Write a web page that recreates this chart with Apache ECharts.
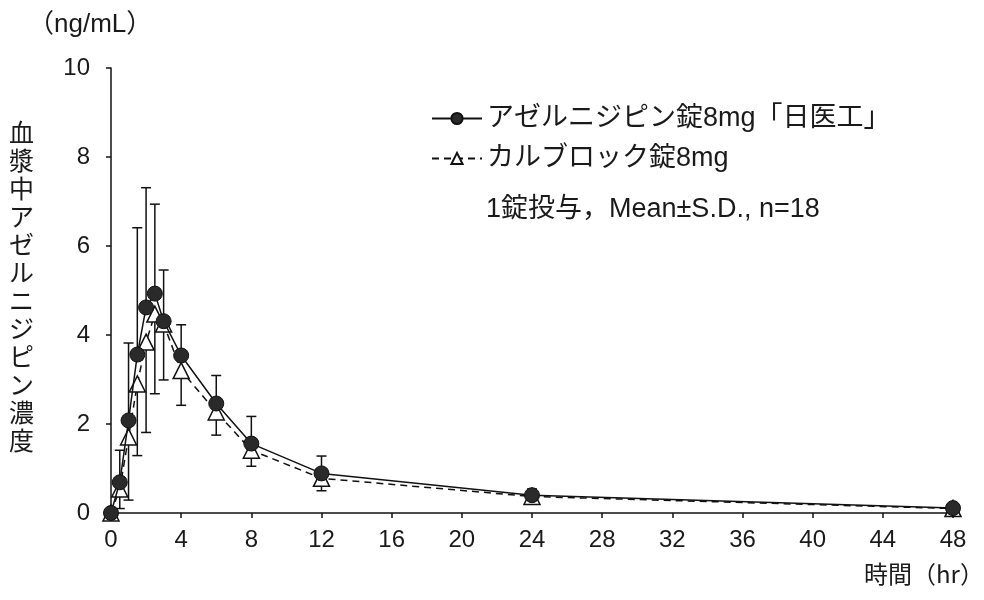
<!DOCTYPE html>
<html>
<head>
<meta charset="utf-8">
<script src="https://cdn.jsdelivr.net/npm/echarts@6/dist/echarts.min.js"></script>
<style>html,body{margin:0;padding:0;background:#fff;}#c{width:984px;height:600px;}</style>
</head>
<body>
<div id="c"></div>
<script>
// time points (hr)
var times = [0, 0.5, 1, 1.5, 2, 2.5, 3, 4, 6, 8, 12, 24, 48];
// アゼルニジピン錠8mg「日医工」 mean and SD (upper bars)
var meanA = [0, 0.69, 2.08, 3.56, 4.62, 4.93, 4.31, 3.54, 2.46, 1.56, 0.89, 0.40, 0.11];
var sdA   = [0, 0.72, 1.74, 2.85, 2.69, 2.01, 1.15, 0.69, 0.63, 0.61, 0.39, 0.14, 0.04];
// カルブロック錠8mg mean and SD (lower bars)
var meanB = [0, 0.54, 1.71, 2.90, 3.84, 4.47, 4.25, 3.20, 2.27, 1.41, 0.78, 0.37, 0.10];
var sdB   = [0, 0.44, 1.42, 1.61, 2.03, 1.79, 1.26, 0.78, 0.52, 0.36, 0.28, 0.09, 0.03];
var nameA = 'アゼルニジピン錠8mg「日医工」';
var nameB = 'カルブロック錠8mg';
var xTicks = [0, 4, 8, 12, 16, 20, 24, 28, 32, 36, 40, 44, 48];
var yTicks = [0, 2, 4, 6, 8, 10];

var chart = echarts.init(document.getElementById('c'));
var jp = '"Liberation Sans", "Noto Sans CJK JP", sans-serif';

function errData(mean, sd, dir) {
  return times.map(function (t, i) {
    return [t, mean[i], mean[i] + dir * sd[i]];
  }).filter(function (d) { return d[1] !== d[2]; });
}
function errRender(params, api) {
  var p0 = api.coord([api.value(0), api.value(1)]);
  var p1 = api.coord([api.value(0), api.value(2)]);
  var hw = 5;
  var st = { stroke: '#111', lineWidth: 1.5, fill: null };
  return {
    type: 'group',
    children: [
      { type: 'line', shape: { x1: p0[0], y1: p0[1], x2: p1[0], y2: p1[1] }, style: st },
      { type: 'line', shape: { x1: p1[0] - hw, y1: p1[1], x2: p1[0] + hw, y2: p1[1] }, style: st }
    ]
  };
}

var option = {
  animation: false,
  backgroundColor: '#fff',
  textStyle: { fontFamily: jp },
  grid: { left: 111, right: 31, top: 68, bottom: 87, containLabel: false },
  xAxis: {
    type: 'value', min: 0, max: 48, interval: 4,
    axisLine: { lineStyle: { color: '#111', width: 1.5 } },
    axisTick: { show: true, length: 5, lineStyle: { color: '#111', width: 1.5 } },
    axisLabel: { color: '#1a1a1a', fontSize: 24, margin: 15, fontFamily: jp,
      formatter: function (v) { return xTicks.indexOf(v) >= 0 ? String(v) : ''; } },
    splitLine: { show: false }
  },
  yAxis: {
    type: 'value', min: 0, max: 10, interval: 2,
    axisLine: { show: true, lineStyle: { color: '#111', width: 1.5 } },
    axisTick: { show: true, length: 5, lineStyle: { color: '#111', width: 1.5 } },
    axisLabel: { color: '#1a1a1a', fontSize: 24, margin: 21, fontFamily: jp,
      formatter: function (v) { return yTicks.indexOf(v) >= 0 ? String(v) : ''; } },
    splitLine: { show: false }
  },
  legend: {
    orient: 'vertical', left: 426, top: 100, itemGap: 13,
    itemWidth: 50, itemHeight: 14,
    textStyle: { fontSize: 27, color: '#1a1a1a', fontFamily: jp },
    data: [nameA, nameB]
  },
  graphic: [
    { type: 'text', left: 28, top: 12, style: { text: '（ng/mL）', font: '26px ' + jp, fill: '#1a1a1a' } },
    { type: 'text', left: 9, top: 118, style: { text: '血\n漿\n中\nア\nゼ\nル\nニ\nジ\nピ\nン\n濃\n度', font: '25px "Noto Sans CJK JP", sans-serif', fill: '#1a1a1a', lineHeight: 28, align: 'left' } },
    { type: 'text', left: 864, top: 562, style: { text: '時間（hr）', font: '24px "Noto Sans CJK JP", sans-serif', fill: '#1a1a1a' } },
    { type: 'text', left: 486, top: 196, style: { text: '1錠投与，Mean±S.D., n=18', font: '27px ' + jp, fill: '#1a1a1a' } }
  ],
  series: [
    { type: 'custom', name: 'errA', renderItem: errRender, data: errData(meanA, sdA, 1), z: 1, silent: true, encode: { x: 0, y: [1, 2] } },
    { type: 'custom', name: 'errB', renderItem: errRender, data: errData(meanB, sdB, -1), z: 1, silent: true, encode: { x: 0, y: [1, 2] } },
    {
      name: nameB, type: 'line', z: 3,
      data: times.map(function (t, i) { return [t, meanB[i]]; }),
      symbol: 'triangle', symbolSize: 16,
      itemStyle: { color: '#fff', borderColor: '#111', borderWidth: 1.5 },
      lineStyle: { color: '#111', width: 1.5, type: [7, 5] }
    },
    {
      name: nameA, type: 'line', z: 4,
      data: times.map(function (t, i) { return [t, meanA[i]]; }),
      symbol: 'circle', symbolSize: 15,
      itemStyle: { color: '#2a2a2a', borderColor: '#111', borderWidth: 1 },
      lineStyle: { color: '#111', width: 1.5 }
    }
  ]
};
chart.setOption(option);
</script>
</body>
</html>
